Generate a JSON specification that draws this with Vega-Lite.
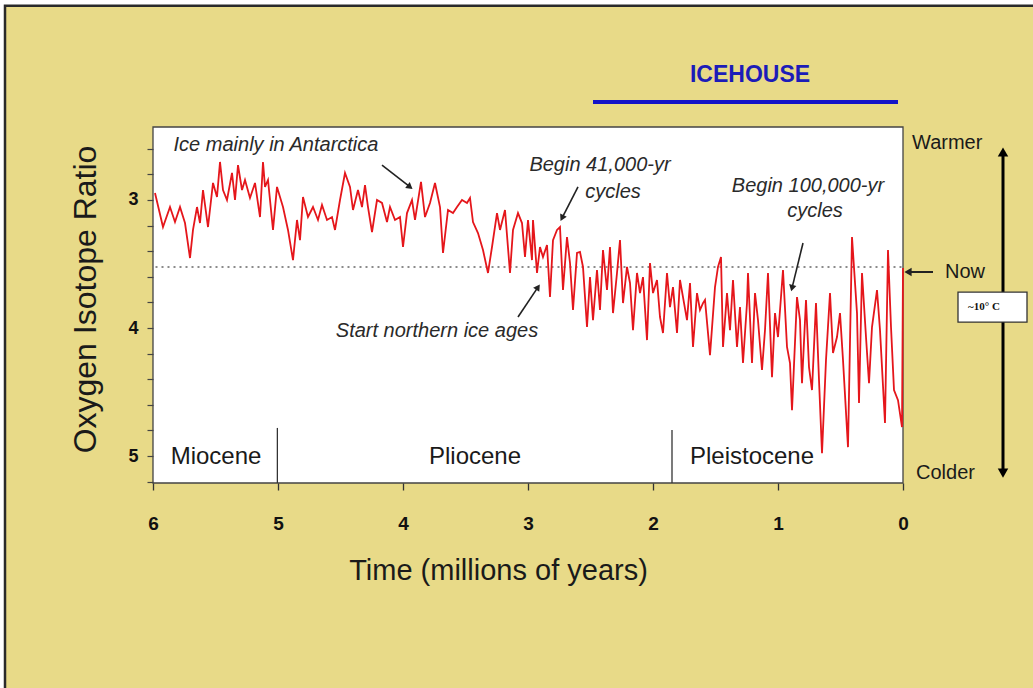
{
  "$schema": "https://vega.github.io/schema/vega-lite/v6.json",
  "width": 750,
  "height": 356,
  "autosize": {"type": "none"},
  "padding": {"left": 153, "top": 127, "right": 130, "bottom": 205},
  "background": "white",
  "config": {"view": {"stroke": null}, "font": "Liberation Sans", "axis": {"zindex": 1}},
  "datasets": {
    "series": [
      {"time":5.984,"ratio":2.945},{"time":5.92,"ratio":3.211},{"time":5.864,"ratio":3.055},{"time":5.824,"ratio":3.172},{"time":5.784,"ratio":3.055},{"time":5.744,"ratio":3.18},{"time":5.704,"ratio":3.453},{"time":5.68,"ratio":3.234},{"time":5.648,"ratio":3.055},{"time":5.624,"ratio":3.18},{"time":5.6,"ratio":2.922},{"time":5.56,"ratio":3.211},{"time":5.52,"ratio":2.867},{"time":5.488,"ratio":2.977},{"time":5.464,"ratio":2.703},{"time":5.44,"ratio":2.922},{"time":5.408,"ratio":3.0},{"time":5.368,"ratio":2.789},{"time":5.344,"ratio":3.0},{"time":5.32,"ratio":2.727},{"time":5.288,"ratio":2.922},{"time":5.264,"ratio":2.844},{"time":5.224,"ratio":2.984},{"time":5.184,"ratio":2.867},{"time":5.144,"ratio":3.133},{"time":5.12,"ratio":2.703},{"time":5.104,"ratio":2.898},{"time":5.08,"ratio":2.844},{"time":5.04,"ratio":3.234},{"time":5.008,"ratio":2.898},{"time":4.96,"ratio":3.055},{"time":4.92,"ratio":3.234},{"time":4.88,"ratio":3.469},{"time":4.848,"ratio":3.156},{"time":4.824,"ratio":3.313},{"time":4.8,"ratio":2.977},{"time":4.76,"ratio":3.133},{"time":4.72,"ratio":3.055},{"time":4.68,"ratio":3.156},{"time":4.648,"ratio":3.039},{"time":4.608,"ratio":3.156},{"time":4.568,"ratio":3.133},{"time":4.544,"ratio":3.234},{"time":4.504,"ratio":3.0},{"time":4.464,"ratio":2.789},{"time":4.424,"ratio":2.898},{"time":4.4,"ratio":3.078},{"time":4.36,"ratio":2.922},{"time":4.328,"ratio":3.055},{"time":4.304,"ratio":2.883},{"time":4.28,"ratio":3.055},{"time":4.248,"ratio":3.25},{"time":4.208,"ratio":3.0},{"time":4.168,"ratio":3.023},{"time":4.128,"ratio":3.172},{"time":4.104,"ratio":3.055},{"time":4.064,"ratio":3.156},{"time":4.024,"ratio":3.133},{"time":4.0,"ratio":3.367},{"time":3.968,"ratio":3.102},{"time":3.928,"ratio":3.0},{"time":3.904,"ratio":3.156},{"time":3.856,"ratio":2.859},{"time":3.824,"ratio":3.133},{"time":3.784,"ratio":3.023},{"time":3.744,"ratio":2.867},{"time":3.704,"ratio":3.055},{"time":3.68,"ratio":3.414},{"time":3.64,"ratio":3.078},{"time":3.6,"ratio":3.102},{"time":3.568,"ratio":3.055},{"time":3.528,"ratio":3.0},{"time":3.488,"ratio":3.023},{"time":3.464,"ratio":2.984},{"time":3.44,"ratio":3.172},{"time":3.4,"ratio":3.258},{"time":3.36,"ratio":3.391},{"time":3.32,"ratio":3.57},{"time":3.288,"ratio":3.367},{"time":3.248,"ratio":3.102},{"time":3.224,"ratio":3.234},{"time":3.184,"ratio":3.078},{"time":3.144,"ratio":3.57},{"time":3.12,"ratio":3.234},{"time":3.08,"ratio":3.102},{"time":3.048,"ratio":3.18},{"time":3.024,"ratio":3.445},{"time":3.0,"ratio":3.156},{"time":2.968,"ratio":3.469},{"time":2.96,"ratio":3.156},{"time":2.928,"ratio":3.57},{"time":2.904,"ratio":3.367},{"time":2.88,"ratio":3.445},{"time":2.848,"ratio":3.352},{"time":2.824,"ratio":3.758},{"time":2.8,"ratio":3.313},{"time":2.768,"ratio":3.234},{"time":2.744,"ratio":3.211},{"time":2.72,"ratio":3.703},{"time":2.688,"ratio":3.289},{"time":2.664,"ratio":3.492},{"time":2.64,"ratio":3.859},{"time":2.608,"ratio":3.414},{"time":2.584,"ratio":3.406},{"time":2.56,"ratio":3.523},{"time":2.528,"ratio":3.992},{"time":2.504,"ratio":3.602},{"time":2.48,"ratio":3.938},{"time":2.448,"ratio":3.547},{"time":2.424,"ratio":3.859},{"time":2.4,"ratio":3.391},{"time":2.368,"ratio":3.703},{"time":2.344,"ratio":3.367},{"time":2.32,"ratio":3.883},{"time":2.288,"ratio":3.57},{"time":2.264,"ratio":3.313},{"time":2.24,"ratio":3.805},{"time":2.208,"ratio":3.523},{"time":2.184,"ratio":3.648},{"time":2.16,"ratio":4.016},{"time":2.128,"ratio":3.57},{"time":2.104,"ratio":3.727},{"time":2.08,"ratio":3.602},{"time":2.048,"ratio":4.094},{"time":2.024,"ratio":3.492},{"time":2.0,"ratio":3.727},{"time":1.968,"ratio":3.625},{"time":1.944,"ratio":3.914},{"time":1.92,"ratio":4.039},{"time":1.888,"ratio":3.57},{"time":1.864,"ratio":3.836},{"time":1.84,"ratio":3.68},{"time":1.808,"ratio":4.039},{"time":1.784,"ratio":3.625},{"time":1.76,"ratio":3.758},{"time":1.728,"ratio":3.938},{"time":1.704,"ratio":3.648},{"time":1.68,"ratio":4.148},{"time":1.648,"ratio":3.727},{"time":1.624,"ratio":3.859},{"time":1.6,"ratio":3.805},{"time":1.584,"ratio":3.781},{"time":1.544,"ratio":4.211},{"time":1.504,"ratio":3.68},{"time":1.48,"ratio":3.523},{"time":1.456,"ratio":3.445},{"time":1.44,"ratio":4.148},{"time":1.408,"ratio":3.727},{"time":1.384,"ratio":4.016},{"time":1.36,"ratio":3.625},{"time":1.328,"ratio":4.148},{"time":1.304,"ratio":3.836},{"time":1.28,"ratio":4.273},{"time":1.248,"ratio":3.805},{"time":1.24,"ratio":3.57},{"time":1.208,"ratio":4.273},{"time":1.184,"ratio":3.727},{"time":1.16,"ratio":3.938},{"time":1.128,"ratio":4.328},{"time":1.104,"ratio":4.016},{"time":1.08,"ratio":3.57},{"time":1.048,"ratio":4.383},{"time":1.024,"ratio":3.883},{"time":1.0,"ratio":4.07},{"time":0.96,"ratio":3.547},{"time":0.928,"ratio":4.148},{"time":0.904,"ratio":4.273},{"time":0.888,"ratio":4.641},{"time":0.848,"ratio":3.758},{"time":0.824,"ratio":3.938},{"time":0.808,"ratio":4.43},{"time":0.776,"ratio":3.781},{"time":0.752,"ratio":4.305},{"time":0.728,"ratio":4.484},{"time":0.696,"ratio":3.805},{"time":0.672,"ratio":4.406},{"time":0.648,"ratio":4.977},{"time":0.616,"ratio":4.25},{"time":0.584,"ratio":3.727},{"time":0.56,"ratio":4.195},{"time":0.528,"ratio":4.07},{"time":0.504,"ratio":3.883},{"time":0.48,"ratio":4.25},{"time":0.44,"ratio":4.93},{"time":0.408,"ratio":3.289},{"time":0.368,"ratio":3.883},{"time":0.352,"ratio":4.586},{"time":0.328,"ratio":3.57},{"time":0.296,"ratio":4.07},{"time":0.272,"ratio":4.43},{"time":0.248,"ratio":3.992},{"time":0.208,"ratio":3.703},{"time":0.184,"ratio":4.016},{"time":0.144,"ratio":4.742},{"time":0.12,"ratio":3.391},{"time":0.096,"ratio":3.992},{"time":0.072,"ratio":4.484},{"time":0.04,"ratio":4.563},{"time":0.008,"ratio":4.773},{"time":0.0,"ratio":3.531}
    ],
    "rects": [
      {"id":"frame","x1":7.184,"x2":-1.5,"y1":1.484,"y2":7.5},
      {"id":"plot","x1":6,"x2":0,"y1":2.43,"y2":5.21},
      {"id":"box","x1":-0.44,"x2":-0.992,"y1":3.719,"y2":3.953}
    ],
    "rules": [
      {"id":"now","x1":5.98,"x2":0.0,"y1":3.523,"y2":3.523},
      {"id":"divider","x1":5.005,"x2":5.005,"y1":4.78,"y2":5.21},
      {"id":"divider","x1":1.848,"x2":1.848,"y1":4.797,"y2":5.21},
      {"id":"icehouse","x1":2.48,"x2":0.04,"y1":2.234,"y2":2.234}
    ],
    "arrows": [
      {"id":"ice","t1":4.168,"v1":2.727,"t2":3.944,"v2":2.898},
      {"id":"c41","t1":2.6,"v1":2.898,"t2":2.728,"v2":3.141},
      {"id":"c100","t1":0.8,"v1":3.336,"t2":0.888,"v2":3.688},
      {"id":"north","t1":3.08,"v1":3.914,"t2":2.92,"v2":3.68},
      {"id":"now","t1":-0.24,"v1":3.5625,"t2":-0.04,"v2":3.5625},
      {"id":"scale","t1":-0.8,"v1":2.625,"t2":-0.8,"v2":5.133}
    ],
    "texts": [
      {"label":"Ice mainly in Antarctica","kind":"note","time":5.016,"ratio":2.574},
      {"label":"Begin 41,000-yr","kind":"note","time":2.424,"ratio":2.727},
      {"label":"cycles","kind":"note","time":2.32,"ratio":2.9375},
      {"label":"Begin 100,000-yr","kind":"note","time":0.76,"ratio":2.891},
      {"label":"cycles","kind":"note","time":0.704,"ratio":3.086},
      {"label":"Start northern ice ages","kind":"note","time":3.728,"ratio":4.023},
      {"label":"Miocene","kind":"epoch","time":5.496,"ratio":5.01},
      {"label":"Pliocene","kind":"epoch","time":3.424,"ratio":5.01},
      {"label":"Pleistocene","kind":"epoch","time":1.208,"ratio":5.01},
      {"label":"Warmer","kind":"side","time":-0.072,"ratio":2.555},
      {"label":"Now","kind":"side","time":-0.336,"ratio":3.5625},
      {"label":"Colder","kind":"side","time":-0.104,"ratio":5.133},
      {"label":"ICEHOUSE","kind":"head","time":1.224,"ratio":2.023},
      {"label":"~10° C","kind":"box","time":-0.648,"ratio":3.836}
    ]
  },
  "layer": [
    {
      "data": {"name": "rects"},
      "transform": [{"filter": "datum.id == 'frame'"}],
      "mark": {"type": "rect", "fill": "#E8DA88", "stroke": "#2a2a2a", "strokeWidth": 2.5},
      "encoding": {
        "x": {
          "field": "x1", "type": "quantitative",
          "scale": {"domain": [0, 6], "reverse": true, "nice": false, "zero": false},
          "axis": {
            "values": [0, 1, 2, 3, 4, 5, 6], "format": "d", "tickCount": 10,
            "title": "Time (millions of years)",
            "titleFont": "Liberation Sans", "titleFontSize": 29, "titleFontWeight": "normal", "titleColor": "#1a1a1a",
            "titleX": 345, "titleY": 87, "titleBaseline": "middle", "titleAlign": "center",
            "labelFont": "Liberation Sans", "labelFontSize": 19, "labelFontWeight": "bold", "labelColor": "#111",
            "labelPadding": 24, "labelFlush": false, "labelOverlap": false,
            "tickSize": 7, "tickColor": "#333", "tickWidth": 1.3,
            "domain": false, "grid": false, "zindex": 1
          }
        },
        "x2": {"field": "x2"},
        "y": {
          "field": "y1", "type": "quantitative",
          "scale": {"domain": [2.43, 5.21], "reverse": true, "nice": false, "zero": false},
          "axis": {
            "values": [2.6, 2.8, 3, 3.2, 3.4, 3.6, 3.8, 4, 4.2, 4.4, 4.6, 4.8, 5, 5.2],
            "tickCount": 30,
            "labelExpr": "abs(datum.value - round(datum.value)) < 0.01 ? format(datum.value, 'd') : ''",
            "title": "Oxygen Isotope Ratio",
            "titleFont": "Liberation Sans", "titleFontSize": 32, "titleFontWeight": "normal", "titleColor": "#1a1a1a",
            "titleX": -68, "titleY": 172, "titleBaseline": "middle", "titleAlign": "center", "titleAngle": -90,
            "labelFont": "Liberation Sans", "labelFontSize": 18, "labelFontWeight": "bold", "labelColor": "#111",
            "labelPadding": 9, "labelOverlap": false,
            "tickSize": 6, "tickColor": "#444", "tickWidth": 1.2,
            "domain": false, "grid": false, "zindex": 1
          }
        },
        "y2": {"field": "y2"}
      }
    },
    {
      "data": {"name": "rects"},
      "transform": [{"filter": "datum.id == 'plot'"}],
      "mark": {"type": "rect", "fill": "white", "stroke": "#444", "strokeWidth": 1.3},
      "encoding": {
        "x": {"field": "x1", "type": "quantitative"},
        "x2": {"field": "x2"},
        "y": {"field": "y1", "type": "quantitative"},
        "y2": {"field": "y2"}
      }
    },
    {
      "data": {"name": "rules"},
      "transform": [{"filter": "datum.id == 'now'"}],
      "mark": {"type": "rule", "color": "#666", "strokeWidth": 1.6, "strokeDash": [2, 4]},
      "encoding": {
        "x": {"field": "x1", "type": "quantitative"},
        "x2": {"field": "x2"},
        "y": {"field": "y1", "type": "quantitative"}
      }
    },
    {
      "data": {"name": "rules"},
      "transform": [{"filter": "datum.id == 'divider'"}],
      "mark": {"type": "rule", "color": "#333", "strokeWidth": 1.3},
      "encoding": {
        "x": {"field": "x1", "type": "quantitative"},
        "y": {"field": "y1", "type": "quantitative"},
        "y2": {"field": "y2"}
      }
    },
    {
      "data": {"name": "series"},
      "mark": {"type": "line", "color": "#E5161B", "strokeWidth": 1.8, "interpolate": "linear"},
      "encoding": {
        "x": {"field": "time", "type": "quantitative"},
        "y": {"field": "ratio", "type": "quantitative"}
      }
    },
    {
      "data": {"name": "texts"},
      "transform": [{"filter": "datum.kind == 'epoch'"}],
      "mark": {"type": "text", "font": "Liberation Sans", "fontSize": 24, "color": "#1a1a1a", "align": "center", "baseline": "middle"},
      "encoding": {
        "x": {"field": "time", "type": "quantitative"},
        "y": {"field": "ratio", "type": "quantitative"},
        "text": {"field": "label"}
      }
    },
    {
      "data": {"name": "texts"},
      "transform": [{"filter": "datum.kind == 'note'"}],
      "mark": {"type": "text", "font": "Liberation Sans", "fontSize": 20, "fontStyle": "italic", "color": "#2a2a2a", "align": "center", "baseline": "middle"},
      "encoding": {
        "x": {"field": "time", "type": "quantitative"},
        "y": {"field": "ratio", "type": "quantitative"},
        "text": {"field": "label"}
      }
    },
    {
      "data": {"name": "texts"},
      "transform": [{"filter": "datum.kind == 'side'"}],
      "mark": {"type": "text", "font": "Liberation Sans", "fontSize": 20, "color": "#1a1a1a", "align": "left", "baseline": "middle"},
      "encoding": {
        "x": {"field": "time", "type": "quantitative"},
        "y": {"field": "ratio", "type": "quantitative"},
        "text": {"field": "label"}
      }
    },
    {
      "data": {"name": "texts"},
      "transform": [{"filter": "datum.kind == 'head'"}],
      "mark": {"type": "text", "font": "Liberation Sans", "fontSize": 23, "fontWeight": "bold", "color": "#1C1CB8", "align": "center", "baseline": "middle"},
      "encoding": {
        "x": {"field": "time", "type": "quantitative"},
        "y": {"field": "ratio", "type": "quantitative"},
        "text": {"field": "label"}
      }
    },
    {
      "data": {"name": "rules"},
      "transform": [{"filter": "datum.id == 'icehouse'"}],
      "mark": {"type": "rule", "color": "#1414C8", "strokeWidth": 4},
      "encoding": {
        "x": {"field": "x1", "type": "quantitative"},
        "x2": {"field": "x2"},
        "y": {"field": "y1", "type": "quantitative"}
      }
    },
    {
      "data": {"name": "arrows"},
      "transform": [{"filter": "datum.id != 'now' && datum.id != 'scale'"}],
      "mark": {"type": "rule", "color": "#222", "strokeWidth": 1.6},
      "encoding": {
        "x": {"field": "t1", "type": "quantitative"},
        "y": {"field": "v1", "type": "quantitative"},
        "x2": {"field": "t2"},
        "y2": {"field": "v2"}
      }
    },
    {
      "data": {"name": "arrows"},
      "transform": [{"filter": "datum.id == 'now'"}],
      "mark": {"type": "rule", "color": "#222", "strokeWidth": 2},
      "encoding": {
        "x": {"field": "t1", "type": "quantitative"},
        "y": {"field": "v1", "type": "quantitative"},
        "x2": {"field": "t2"},
        "y2": {"field": "v2"}
      }
    },
    {
      "data": {"name": "arrows"},
      "transform": [{"filter": "datum.id == 'scale'"}],
      "mark": {"type": "rule", "color": "#000", "strokeWidth": 3},
      "encoding": {
        "x": {"field": "t1", "type": "quantitative"},
        "y": {"field": "v1", "type": "quantitative"},
        "x2": {"field": "t2"},
        "y2": {"field": "v2"}
      }
    },
    {
      "data": {"name": "arrows"},
      "transform": [{"filter": "datum.id == 'ice'"}],
      "mark": {"type": "point", "shape": "triangle-right", "filled": true, "color": "#222", "opacity": 1, "size": 55, "angle": 38},
      "encoding": {
        "x": {"field": "t2", "type": "quantitative"},
        "y": {"field": "v2", "type": "quantitative"}
      }
    },
    {
      "data": {"name": "arrows"},
      "transform": [{"filter": "datum.id == 'c41'"}],
      "mark": {"type": "point", "shape": "triangle-right", "filled": true, "color": "#222", "opacity": 1, "size": 55, "angle": 117},
      "encoding": {
        "x": {"field": "t2", "type": "quantitative"},
        "y": {"field": "v2", "type": "quantitative"}
      }
    },
    {
      "data": {"name": "arrows"},
      "transform": [{"filter": "datum.id == 'c100'"}],
      "mark": {"type": "point", "shape": "triangle-right", "filled": true, "color": "#222", "opacity": 1, "size": 55, "angle": 104},
      "encoding": {
        "x": {"field": "t2", "type": "quantitative"},
        "y": {"field": "v2", "type": "quantitative"}
      }
    },
    {
      "data": {"name": "arrows"},
      "transform": [{"filter": "datum.id == 'north'"}],
      "mark": {"type": "point", "shape": "triangle-right", "filled": true, "color": "#222", "opacity": 1, "size": 55, "angle": -56},
      "encoding": {
        "x": {"field": "t2", "type": "quantitative"},
        "y": {"field": "v2", "type": "quantitative"}
      }
    },
    {
      "data": {"name": "arrows"},
      "transform": [{"filter": "datum.id == 'now'"}],
      "mark": {"type": "point", "shape": "triangle-right", "filled": true, "color": "#222", "opacity": 1, "size": 70, "angle": 180},
      "encoding": {
        "x": {"field": "t2", "type": "quantitative"},
        "y": {"field": "v2", "type": "quantitative"}
      }
    },
    {
      "data": {"name": "arrows"},
      "transform": [{"filter": "datum.id == 'scale'"}],
      "mark": {"type": "point", "shape": "triangle-right", "filled": true, "color": "#000", "opacity": 1, "size": 110, "angle": -90},
      "encoding": {
        "x": {"field": "t1", "type": "quantitative"},
        "y": {"field": "v1", "type": "quantitative"}
      }
    },
    {
      "data": {"name": "arrows"},
      "transform": [{"filter": "datum.id == 'scale'"}],
      "mark": {"type": "point", "shape": "triangle-right", "filled": true, "color": "#000", "opacity": 1, "size": 110, "angle": 90},
      "encoding": {
        "x": {"field": "t2", "type": "quantitative"},
        "y": {"field": "v2", "type": "quantitative"}
      }
    },
    {
      "data": {"name": "rects"},
      "transform": [{"filter": "datum.id == 'box'"}],
      "mark": {"type": "rect", "fill": "white", "stroke": "#333", "strokeWidth": 1.3},
      "encoding": {
        "x": {"field": "x1", "type": "quantitative"},
        "x2": {"field": "x2"},
        "y": {"field": "y1", "type": "quantitative"},
        "y2": {"field": "y2"}
      }
    },
    {
      "data": {"name": "texts"},
      "transform": [{"filter": "datum.kind == 'box'"}],
      "mark": {"type": "text", "font": "Liberation Serif", "fontSize": 11, "fontWeight": "bold", "color": "#111", "align": "center", "baseline": "middle"},
      "encoding": {
        "x": {"field": "time", "type": "quantitative"},
        "y": {"field": "ratio", "type": "quantitative"},
        "text": {"field": "label"}
      }
    }
  ]
}
